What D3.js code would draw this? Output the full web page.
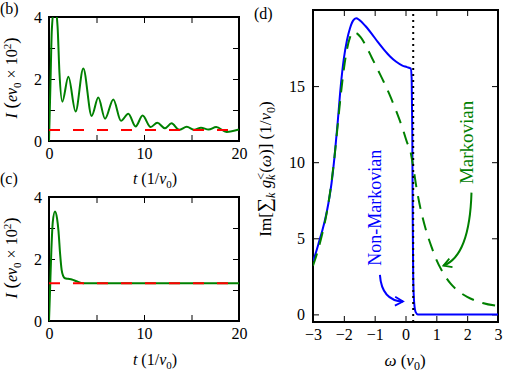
<!DOCTYPE html>
<html>
<head>
<meta charset="utf-8">
<script src="https://cdn.jsdelivr.net/npm/d3@7"></script>
<style>
body { margin: 0; background: #fff; }
text { font-family: "Liberation Serif", "Times New Roman", serif; fill: #000; }
</style>
</head>
<body>
<svg id="chart" width="507" height="375"></svg>
<script>
// panel (b): transient current, slow decay
var bTime = [0, 0.15, 0.3, 0.6, 0.9, 1.1, 1.4, 2.04, 2.8, 3.61, 4.49, 5.19, 5.9, 6.77, 7.58, 8.35, 9.12, 9.85, 10.7, 11.4, 12.2, 12.9, 13.7, 14.5, 15.3, 16.0, 16.8, 17.6, 18.7, 20];
var bCurrent = [0, 1.8, 3.6, 4.4, 3.7, 2.2, 1.27, 2.07, 0.95, 2.34, 0.81, 1.40, 0.72, 1.34, 0.65, 0.88, 0.47, 0.82, 0.45, 0.59, 0.41, 0.57, 0.36, 0.46, 0.36, 0.43, 0.37, 0.45, 0.29, 0.37];
var bSteady = 0.355;

// panel (c)
var cTime = [0, 0.1, 0.25, 0.4, 0.63, 0.85, 1.0, 1.16, 1.33, 1.5, 1.68, 2.0, 2.4, 2.9, 3.6, 20];
var cCurrent = [0, 0.9, 2.3, 3.2, 3.53, 3.3, 2.9, 2.2, 1.65, 1.45, 1.38, 1.36, 1.34, 1.28, 1.22, 1.22];
var cSteady = 1.22;

// panel (d): Im sum g_k^<(w)
var nmOmega = [-3, -2.9, -2.8, -2.7, -2.6, -2.5, -2.4, -2.3, -2.2, -2.1, -2.0, -1.9, -1.8, -1.7, -1.6, -1.5, -1.3, -1.1, -0.9, -0.7, -0.5, -0.3, -0.1, 0.05, 0.17, 0.2, 0.22, 0.235, 0.25, 0.28, 0.33, 0.4, 3];
var nmValue = [3.5, 4.1, 4.8, 5.5, 6.3, 7.3, 8.6, 10.4, 12.6, 15.0, 16.8, 18.0, 18.8, 19.3, 19.45, 19.35, 18.95, 18.45, 17.9, 17.4, 16.95, 16.6, 16.35, 16.25, 16.15, 15.5, 12, 6, 2.5, 0.8, 0.15, 0, 0];
var mOmega = [-3, -2.9, -2.8, -2.7, -2.6, -2.5, -2.4, -2.3, -2.2, -2.1, -2.0, -1.9, -1.8, -1.72, -1.6, -1.45, -1.31, -1.1, -0.88, -0.7, -0.52, -0.3, -0.1, 0.05, 0.15, 0.25, 0.35, 0.45, 0.55, 0.7, 0.85, 1.0, 1.2, 1.45, 1.7, 2.0, 2.5, 3.0];
var mValue = [3.2, 3.8, 4.5, 5.3, 6.2, 7.3, 8.7, 10.4, 12.4, 14.4, 16.1, 17.4, 18.2, 18.55, 18.5, 18.2, 17.75, 16.9, 16.0, 15.25, 14.45, 13.35, 12.25, 11.3, 10.8, 9.7, 8.4, 7.3, 6.4, 5.3, 4.4, 3.6, 2.8, 2.05, 1.55, 1.15, 0.75, 0.55];
var fermiLevel = 0.25;

var svg = d3.select("#chart");
var fmt = d3.format("d");

function rich(sel, parts) {
    var shift = 0;
    parts.forEach(function (p) {
        var off = p.off || 0;
        var ts = sel.append("tspan").text(p.t).attr("dy", off - shift);
        shift = off;
        if (p.i) ts.attr("font-style", "italic");
        if (p.s) ts.attr("font-size", p.s);
        if (p.dx) ts.attr("dx", p.dx);
    });
}

function frame(id, x, y, xticks, xlab, yticks, ylab, pad) {
    var g = svg.append("g");
    var x0 = x.range()[0], x1 = x.range()[1];
    var y0 = y.range()[0], y1 = y.range()[1];

    g.append("clipPath").attr("id", id)
        .append("rect").attr("x", x0).attr("y", y1).attr("width", x1 - x0).attr("height", y0 - y1);

    var axes = [
        [d3.axisBottom(x).tickValues(xticks).tickFormat(d => xlab.includes(d) ? fmt(d) : ""), "translate(0," + y0 + ")"],
        [d3.axisTop(x).tickValues(xticks).tickFormat(""), "translate(0," + y1 + ")"],
        [d3.axisLeft(y).tickValues(yticks).tickFormat(d => ylab.includes(d) ? fmt(d) : ""), "translate(" + x0 + ",0)"],
        [d3.axisRight(y).tickValues(yticks).tickFormat(""), "translate(" + x1 + ",0)"]
    ];
    axes.forEach(function (a, i) {
        var ax = g.append("g").attr("transform", a[1])
            .call(a[0].tickSizeInner(-6).tickSizeOuter(0).tickPadding(i == 0 ? 7 : pad));
        ax.select(".domain").remove();
        ax.selectAll("line").attr("stroke", "#000").attr("stroke-width", 1);
        ax.selectAll("text").attr("font-size", 16).attr("fill", "#000");
    });

    g.append("rect").attr("x", x0).attr("y", y1).attr("width", x1 - x0).attr("height", y0 - y1)
        .attr("fill", "none").attr("stroke", "#000").attr("stroke-width", 2);

    return svg.append("g").attr("clip-path", "url(#" + id + ")");
}

function curve(g, xs, ys, x, y, color, dash) {
    var line = d3.line().x(d => x(d[0])).y(d => y(d[1])).curve(d3.curveMonotoneX);
    var p = g.append("path").datum(xs.map((v, i) => [v, ys[i]]))
        .attr("d", line).attr("fill", "none").attr("stroke", color).attr("stroke-width", 2);
    if (dash) p.attr("stroke-dasharray", dash);
}

// ---- panels (b) and (c)
var xb = d3.scaleLinear().domain([0, 20]).range([49, 239]);
var yb = d3.scaleLinear().domain([0, 4]).range([141, 17]);
var xc = d3.scaleLinear().domain([0, 20]).range([49, 239]);
var yc = d3.scaleLinear().domain([0, 4]).range([321, 197]);

var gb = frame("clipb", xb, yb, [0, 5, 10, 15, 20], [0, 10, 20], [0, 1, 2, 3, 4], [0, 2, 4], 7);
curve(gb, bTime, bCurrent, xb, yb, "#008000");
curve(gb, [0, 20], [bSteady, bSteady], xb, yb, "#ff0000", "11,13");

var gc = frame("clipc", xc, yc, [0, 5, 10, 15, 20], [0, 10, 20], [0, 1, 2, 3, 4], [0, 2, 4], 7);
curve(gc, cTime, cCurrent, xc, yc, "#008000");
curve(gc, [0, 20], [cSteady, cSteady], xc, yc, "#ff0000", "11,13");

[[yb, 184], [yc, 365]].forEach(function (p) {
    var t = svg.append("text").attr("x", 155).attr("y", p[1]).attr("text-anchor", "middle").attr("font-size", 16);
    rich(t, [{t: "t", i: true}, {t: " (1/"}, {t: "v", i: true}, {t: "0", off: 4, s: 11}, {t: ")"}]);
    var cy = (p[0].range()[0] + p[0].range()[1]) / 2 - 1;
    var yl = svg.append("text").attr("transform", "translate(17," + cy + ") rotate(-90)")
        .attr("text-anchor", "middle").attr("font-size", 16);
    rich(yl, [{t: "I", i: true}, {t: "  (", s: 19}, {t: "ev", i: true}, {t: "0", off: 4, s: 11},
        {t: " × 10"}, {t: "2", off: -6, s: 11}, {t: ")", s: 19}]);
});

svg.append("text").attr("x", 0).attr("y", 14).attr("font-size", 16).text("(b)");
svg.append("text").attr("x", 0).attr("y", 184).attr("font-size", 16).text("(c)");

// ---- panel (d)
var xd = d3.scaleLinear().domain([-3, 3]).range([313, 498]);
var yd = d3.scaleLinear().domain([-0.5, 20]).range([322, 10]);

var gd = frame("clipd", xd, yd, [-3, -2, -1, 0, 1, 2, 3], [-3, -2, -1, 0, 1, 2, 3], [0, 5, 10, 15], [0, 5, 10, 15], 8);
curve(gd, nmOmega, nmValue, xd, yd, "#0000ff");
curve(gd, mOmega, mValue, xd, yd, "#008000", "13,9");
gd.append("line").attr("x1", xd(fermiLevel)).attr("x2", xd(fermiLevel))
    .attr("y1", yd.range()[0]).attr("y2", yd.range()[1])
    .attr("stroke", "#000").attr("stroke-width", 2).attr("stroke-dasharray", "2,4");

svg.append("text").attr("x", 254).attr("y", 19).attr("font-size", 16).text("(d)");

var xl = svg.append("text").attr("x", 405).attr("y", 366).attr("text-anchor", "middle").attr("font-size", 17);
rich(xl, [{t: "ω", i: true}, {t: " ("}, {t: "v", i: true}, {t: "0", off: 4, s: 12}, {t: ")"}]);

var ydl = svg.append("text").attr("transform", "translate(271,169) rotate(-90)")
    .attr("text-anchor", "middle").attr("font-size", 17);
rich(ydl, [{t: "Im["}, {t: "∑", s: 20}, {t: "k", i: true, off: 4, s: 12}, {t: " g", i: true},
    {t: "<", off: -6, s: 12}, {t: "k", i: true, off: 4, s: 12, dx: -7}, {t: "(", dx: 2}, {t: "ω", i: true}, {t: ")]"},
    {t: "  (1/"}, {t: "v", i: true}, {t: "0", off: 4, s: 12}, {t: ")"}]);

// annotations
var defs = svg.append("defs");
[["headBlue", "#0000ff"], ["headGreen", "#008000"]].forEach(function (m) {
    defs.append("marker").attr("id", m[0]).attr("markerUnits", "userSpaceOnUse")
        .attr("viewBox", "-10 -6 12 12").attr("refX", 0).attr("refY", 0)
        .attr("markerWidth", 12).attr("markerHeight", 12).attr("orient", "auto")
        .append("path").attr("d", "M-8,-4.5L0,0L-8,4.5").attr("fill", "none")
        .attr("stroke", m[1]).attr("stroke-width", 1.8);
});

svg.append("text").attr("transform", "translate(" + xd(-0.8) + "," + yd(7.0) + ") rotate(-90)")
    .attr("text-anchor", "middle").attr("font-size", 18).style("fill", "#0000ff")
    .text("Non-Markovian");
svg.append("text").attr("transform", "translate(" + xd(2.2) + "," + yd(11.3) + ") rotate(-90)")
    .attr("text-anchor", "middle").attr("font-size", 19).style("fill", "#008000")
    .text("Markovian");

svg.append("path")
    .attr("d", "M" + xd(-0.83) + "," + yd(2.6) + "Q" + xd(-0.77) + "," + yd(0.9) + " " + xd(-0.08) + "," + yd(0.85))
    .attr("fill", "none").attr("stroke", "#0000ff").attr("stroke-width", 2).attr("marker-end", "url(#headBlue)");
svg.append("path")
    .attr("d", "M" + xd(2.14) + "," + yd(8.0) + "Q" + xd(2.08) + "," + yd(3.85) + " " + xd(1.23) + "," + yd(3.2))
    .attr("fill", "none").attr("stroke", "#008000").attr("stroke-width", 2).attr("marker-end", "url(#headGreen)");
</script>
</body>
</html>
